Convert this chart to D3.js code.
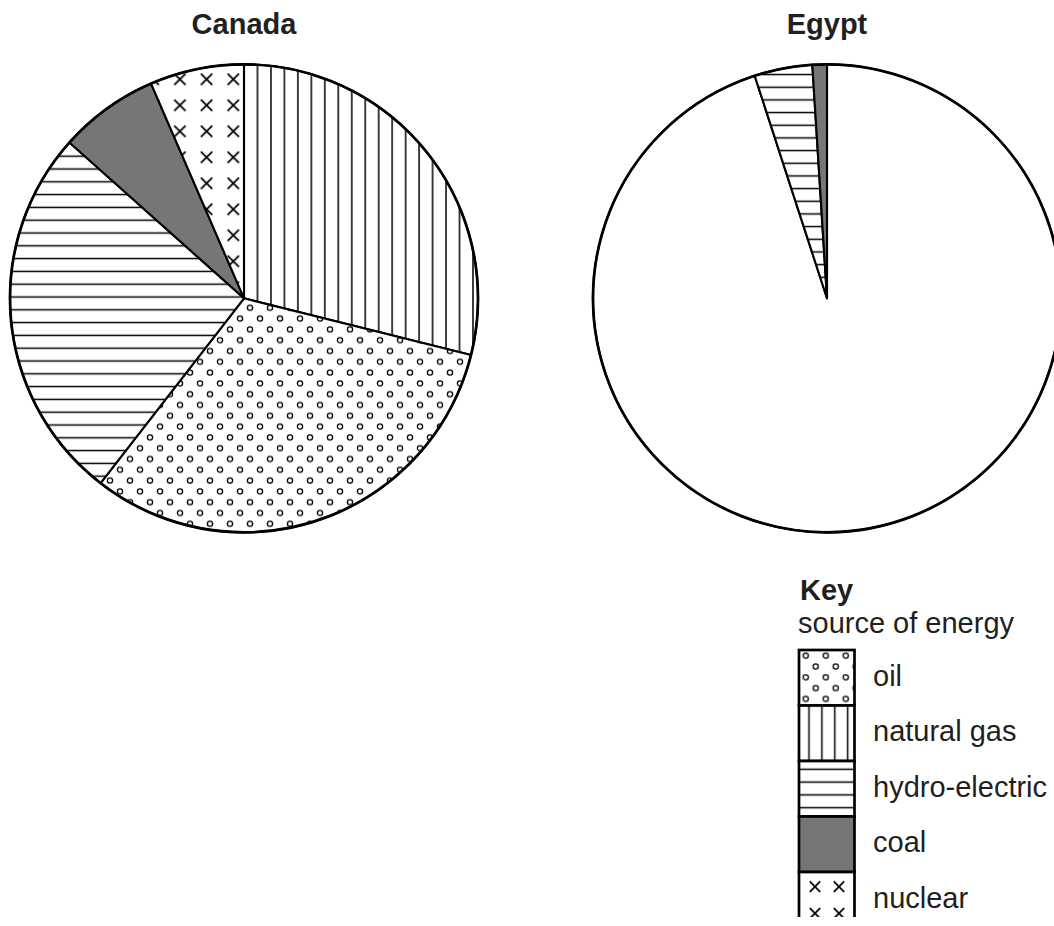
<!DOCTYPE html>
<html lang="en">
<head>
  <meta charset="utf-8">
  <title>Energy sources - Canada and Egypt</title>
  <script src="https://d3js.org/d3.v7.min.js"></script>
  <style>
    body { margin: 0; background: #fff; }
    text { font-family: "Liberation Sans", Arial, Helvetica, sans-serif; fill: #231f20; }
  </style>
</head>
<body>
  <div id="stage"></div>
  <script>
    // data (percent of each pie)
    var countries = ["Canada", "Egypt"];
    var canadaSources = ["natural gas", "oil", "hydro-electric", "coal", "nuclear"];
    var canadaValues = [28.9, 31.6, 26.1, 6.9, 6.5];
    // Egypt: the big part is left blank in the picture (to be filled in)
    var egyptSources = ["blank", "hydro-electric", "coal"];
    var egyptValues = [95, 4, 1];
    var keySources = ["oil", "natural gas", "hydro-electric", "coal", "nuclear"];

    var W = 1054, H = 926;
    var R = 234;

    var svg = d3.select("#stage").append("svg")
      .attr("width", W).attr("height", H);
    var defs = svg.append("defs");

    // pattern helpers. phase is given by px, py (in the user space of the shape)
    function vLines(id, step, px, py) {
      var p = defs.append("pattern").attr("id", id).attr("patternUnits", "userSpaceOnUse")
        .attr("x", px - step / 2).attr("y", py).attr("width", step).attr("height", 20);
      p.append("rect").attr("width", step).attr("height", 20).attr("fill", "#fff");
      p.append("line").attr("x1", step / 2).attr("x2", step / 2).attr("y1", 0).attr("y2", 20)
        .attr("stroke", "#000").attr("stroke-width", 1.5);
    }
    function hLines(id, step, px, py) {
      var p = defs.append("pattern").attr("id", id).attr("patternUnits", "userSpaceOnUse")
        .attr("x", px).attr("y", py - step / 2).attr("width", 20).attr("height", step);
      p.append("rect").attr("width", 20).attr("height", step).attr("fill", "#fff");
      p.append("line").attr("y1", step / 2).attr("y2", step / 2).attr("x1", 0).attr("x2", 20)
        .attr("stroke", "#000").attr("stroke-width", 1.5);
    }
    function dots(id, w, h, px, py) {
      var p = defs.append("pattern").attr("id", id).attr("patternUnits", "userSpaceOnUse")
        .attr("x", px - w / 4).attr("y", py - h / 4).attr("width", w).attr("height", h);
      p.append("rect").attr("width", w).attr("height", h).attr("fill", "#fff");
      [[w / 4, h / 4], [3 * w / 4, 3 * h / 4]].forEach(function (c) {
        p.append("circle").attr("cx", c[0]).attr("cy", c[1]).attr("r", 2.6)
          .attr("fill", "#fff").attr("stroke", "#000").attr("stroke-width", 1.3);
      });
    }
    function crosses(id, w, h, px, py, s) {
      var p = defs.append("pattern").attr("id", id).attr("patternUnits", "userSpaceOnUse")
        .attr("x", px - w / 2).attr("y", py - h / 2).attr("width", w).attr("height", h);
      p.append("rect").attr("width", w).attr("height", h).attr("fill", "#fff");
      p.append("path")
        .attr("d", "M" + (w / 2 - s) + "," + (h / 2 - s) + "L" + (w / 2 + s) + "," + (h / 2 + s) +
          "M" + (w / 2 + s) + "," + (h / 2 - s) + "L" + (w / 2 - s) + "," + (h / 2 + s))
        .attr("stroke", "#000").attr("stroke-width", 1.8).attr("fill", "none");
    }

    // canada pie patterns (relative to pie centre)
    vLines("ca-gas", 13.47, 0, 0);
    dots("ca-oil", 20, 21.6, -4, 20.3);
    hLines("ca-hydro", 12.8, 0, -1.3);
    crosses("ca-nuc", 26.7, 26, -10.7, -219, 5.7);
    // egypt
    hLines("eg-hydro", 12.67, 0, -21);
    // key (absolute)
    dots("k-oil", 20, 21.6, 805.7, 655.7);
    vLines("k-gas", 12.9, 809, 0);
    hLines("k-hydro", 12.8, 0, 769.3);
    crosses("k-nuc", 24, 26.6, 815, 886.7, 5.2);

    var coalGrey = "#767676";
    var fills = {
      "Canada": {
        "natural gas": "url(#ca-gas)", "oil": "url(#ca-oil)", "hydro-electric": "url(#ca-hydro)",
        "coal": coalGrey, "nuclear": "url(#ca-nuc)"
      },
      "Egypt": { "blank": "#fff", "hydro-electric": "url(#eg-hydro)", "coal": coalGrey }
    };
    var keyFills = {
      "oil": "url(#k-oil)", "natural gas": "url(#k-gas)", "hydro-electric": "url(#k-hydro)",
      "coal": coalGrey, "nuclear": "url(#k-nuc)"
    };

    var pieData = {
      "Canada": canadaSources.map(function (s, i) { return { source: s, value: canadaValues[i] }; }),
      "Egypt": egyptSources.map(function (s, i) { return { source: s, value: egyptValues[i] }; })
    };

    var cx = d3.scalePoint().domain(countries).range([244, 827]);
    var cy = 298.3;

    var pie = d3.pie().sort(null).value(function (d) { return d.value; });
    var arc = d3.arc().innerRadius(0).outerRadius(R);

    countries.forEach(function (c) {
      var g = svg.append("g").attr("transform", "translate(" + cx(c) + "," + cy + ")");
      g.selectAll("path.slice")
        .data(pie(pieData[c]))
        .enter().append("path")
        .attr("class", "slice")
        .attr("d", arc)
        .attr("fill", function (d) { return fills[c][d.data.source]; })
        .attr("stroke", "#000")
        .attr("stroke-width", 2.1)
        .attr("stroke-linejoin", "round");
      g.append("circle").attr("r", R).attr("fill", "none")
        .attr("stroke", "#000").attr("stroke-width", 2.7);

      svg.append("text")
        .attr("x", cx(c)).attr("y", 33.5)
        .attr("text-anchor", "middle")
        .attr("font-size", 29).attr("font-weight", "bold")
        .text(c);
    });

    // key
    var kx = 799, ky = 650, kw = 55.5, kh = 55.5;
    svg.append("text").attr("x", 800).attr("y", 599.5)
      .attr("font-size", 29).attr("font-weight", "bold").text("Key");
    svg.append("text").attr("x", 798).attr("y", 633)
      .attr("font-size", 29).text("source of energy");

    defs.append("clipPath").attr("id", "keyclip")
      .append("rect").attr("x", 0).attr("y", 0).attr("width", W).attr("height", 917);

    var ks = d3.scaleBand().domain(keySources).range([ky, ky + kh * keySources.length]);
    var key = svg.append("g").attr("clip-path", "url(#keyclip)");
    key.selectAll("rect.box")
      .data(keySources)
      .enter().append("rect")
      .attr("class", "box")
      .attr("x", kx).attr("y", function (d) { return ks(d); })
      .attr("width", kw).attr("height", ks.bandwidth())
      .attr("fill", function (d) { return keyFills[d]; })
      .attr("stroke", "#000").attr("stroke-width", 2.7);

    svg.selectAll("text.klabel")
      .data(keySources)
      .enter().append("text")
      .attr("class", "klabel")
      .attr("x", 873)
      .attr("y", function (d) { return ks(d) + ks.bandwidth() / 2 + 8; })
      .attr("font-size", 29)
      .text(function (d) { return d; });
  </script>
</body>
</html>
